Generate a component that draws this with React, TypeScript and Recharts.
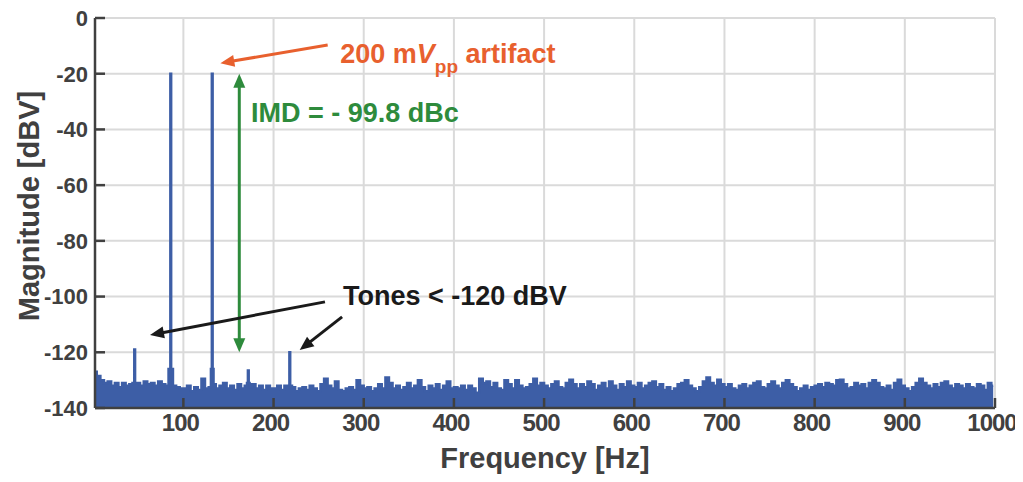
import React from 'react';
import {
  ComposedChart, Area, XAxis, YAxis, CartesianGrid, ReferenceLine, ReferenceDot
} from 'recharts';

const FONT = '"Liberation Sans", Arial, Helvetica, sans-serif';
const AXIS = '#404040';
const BLUE = '#3d5ea6';
const ORANGE = '#e8602e';
const GREEN = '#2e8b3c';
const BLACK = '#1a1a1a';

// FFT bins: 2 Hz start, 4 Hz spacing (noise floor envelope)
const startHz = 2;
const binHz = 4;
const noiseMag = [
  // 2 - 98 Hz
  -127, -128.5, -130, -131, -130.5, -132, -131, -132.5, -131, -132, -131.5, -131, -131, -132, -130.5, -131.5, -131, -132, -130.5, -131.5, -132, -131, -132, -132.5, -133,
  // 102 - 198 Hz
  -133, -132, -134, -132.5, -133.5, -129.5, -133, -132.5, -131.5, -133, -132, -131, -133, -132, -133.5, -131.5, -133, -132, -132.5, -131.5, -133, -132, -133.5, -132, -133,
  // 202 - 298 Hz
  -133, -132, -133.5, -132, -131, -132.5, -134, -133, -132.5, -133.5, -132, -133, -134, -131.5, -129.5, -132, -133, -130.5, -133.5, -134, -133, -132.5, -133.5, -130, -132,
  // 302 - 398 Hz
  -133, -132.5, -134, -133, -131.5, -133, -129, -131, -133, -132, -133.5, -132.5, -131, -133, -132, -130, -132.5, -134, -132, -133, -131.5, -133.5, -132, -130.5, -133,
  // 402 - 498 Hz
  -132.5, -133, -132, -133.5, -132, -133, -134.5, -129.5, -131, -130.5, -132.5, -131, -133, -133.5, -130, -131.5, -133, -130, -132, -133, -132.5, -131.5, -129.5, -132, -131,
  // 502 - 598 Hz
  -132, -133, -131.5, -130.5, -132.5, -133, -131, -129.8, -131.5, -133, -131.5, -132.5, -130.5, -131.5, -133.5, -132, -131, -133, -130.5, -132, -133.5, -131.5, -132.5, -130.5, -132,
  // 602 - 698 Hz
  -132.5, -131, -133, -132, -131, -130.5, -132.5, -131.5, -133.5, -132.5, -134, -133, -131.5, -131, -130, -132, -133, -134, -132.5, -130.5, -129, -131, -132, -129.8, -131.5,
  // 702 - 798 Hz
  -132.5, -131.5, -133, -133.5, -132, -131.5, -133, -132, -131, -130.5, -132.5, -133, -131.5, -130.5, -132, -133, -131, -130, -131.5, -132.5, -134, -133, -132, -133.5, -132.5,
  // 802 - 898 Hz
  -132, -131.5, -132.5, -131, -131.5, -132, -130, -129.8, -131.5, -133, -132.5, -131, -132, -131.5, -133, -131, -130, -131, -132.5, -133, -132, -133.5, -131, -129.8, -132,
  // 902 - 998 Hz
  -133, -134, -132.5, -131, -129.5, -131, -132, -133, -131.5, -132.5, -131, -130.5, -132, -133, -131.5, -132, -133, -131.5, -132.5, -133, -131.5, -132, -133.5, -131, -132,
];

// tones: f2-f1, f1, f2, 2*f1, f1+f2 (with their skirts)
const peakFreq = [45, 46, 47, 85, 86, 87, 131, 132, 133, 171, 172, 173, 217, 218, 219];
const peakMag = [-131, -119, -131, -126, -20, -126, -126, -20, -126, -131, -126.5, -131, -132, -120, -132];

const freqTicks = [100, 200, 300, 400, 500, 600, 700, 800, 900, 1000];
const magTicks = [0, -20, -40, -60, -80, -100, -120, -140];
const innerTicksX = [100, 200, 300, 400, 500, 600, 700, 800, 900];
const innerTicksY = [-20, -40, -60, -80, -100, -120];

const spectrum = (() => {
  const byFreq = new Map<number, number>();
  noiseMag.forEach((m, i) => byFreq.set(startHz + i * binHz, m));
  peakFreq.forEach((f, i) => byFreq.set(f, peakMag[i]));
  return [...byFreq.entries()].sort((a, b) => a[0] - b[0]).map(([f, mag]) => ({ f, mag }));
})();

const arrow = (color: string, both = false) => (p: any) => {
  const { x1, y1, x2, y2 } = p;
  const ang = Math.atan2(y2 - y1, x2 - x1);
  const len = 14;
  const half = 6;
  const c = Math.cos(ang);
  const s = Math.sin(ang);
  const head = (tx: number, ty: number, dir: number) => {
    const bx = tx - dir * len * c;
    const by = ty - dir * len * s;
    return (
      <polygon
        points={`${tx},${ty} ${bx - half * s},${by + half * c} ${bx + half * s},${by - half * c}`}
        fill={color}
      />
    );
  };
  const sx = both ? x1 + len * 0.8 * c : x1;
  const sy = both ? y1 + len * 0.8 * s : y1;
  return (
    <g>
      <line x1={sx} y1={sy} x2={x2 - len * 0.8 * c} y2={y2 - len * 0.8 * s} stroke={color} strokeWidth={3} />
      {head(x2, y2, 1)}
      {both && head(x1, y1, -1)}
    </g>
  );
};

const hiddenTick = () => <g />;

export default function App() {
  return (
    <div style={{ width: 1015, height: 482, marginTop: -8, background: '#fff' }}>
      <ComposedChart
        width={1015}
        height={482}
        data={spectrum}
        margin={{ top: 18, right: 28, left: 27, bottom: 34 }}
      >
        <CartesianGrid stroke="#dadada" strokeWidth={2} />
        <Area
          type="step"
          dataKey="mag"
          baseValue={-140}
          stroke={BLUE}
          strokeWidth={2.4}
          fill={BLUE}
          fillOpacity={1}
          dot={false}
          activeDot={false}
          isAnimationActive={false}
        />
        <XAxis
          dataKey="f"
          type="number"
          domain={[2, 1000]}
          ticks={freqTicks}
          interval={0}
          allowDataOverflow
          height={40}
          tickSize={-10}
          tickMargin={16}
          stroke={AXIS}
          strokeWidth={2.5}
          tick={{ fill: AXIS, fontSize: 24, fontWeight: 700, fontFamily: FONT, letterSpacing: -1, dx: -3 }}
          label={{
            value: 'Frequency [Hz]',
            position: 'bottom',
            offset: -1,
            style: { fill: AXIS, fontSize: 29, fontWeight: 700, fontFamily: FONT },
          }}
        />
        <XAxis
          xAxisId="top"
          orientation="top"
          type="number"
          domain={[2, 1000]}
          ticks={innerTicksX}
          interval={0}
          allowDataOverflow
          height={0}
          tickSize={-9}
          stroke={AXIS}
          strokeWidth={2.5}
          tick={hiddenTick}
        />
        <YAxis
          type="number"
          domain={[-140, 0]}
          ticks={magTicks}
          interval={0}
          allowDataOverflow
          width={60}
          tickSize={-10}
          tickMargin={17}
          stroke={AXIS}
          strokeWidth={2.5}
          tick={{ fill: AXIS, fontSize: 22, fontWeight: 700, fontFamily: FONT }}
          label={{
            content: (props: any) => {
              const { x, y, height } = props.viewBox;
              const bx = x + 4;
              const cy = y + height / 2 - 7;
              return (
                <text
                  x={bx}
                  y={cy}
                  transform={`rotate(-90, ${bx}, ${cy})`}
                  textAnchor="middle"
                  fill={AXIS}
                  fontSize={29}
                  fontWeight={700}
                  fontFamily={FONT}
                >
                  Magnitude [dBV]
                </text>
              );
            },
          }}
        />
        <YAxis
          yAxisId="right"
          orientation="right"
          type="number"
          domain={[-140, 0]}
          ticks={innerTicksY}
          interval={0}
          allowDataOverflow
          width={0}
          tickSize={-9}
          stroke={AXIS}
          strokeWidth={2.5}
          tick={hiddenTick}
        />

        {/* 200 mVpp artifact */}
        <ReferenceLine
          segment={[{ x: 260, y: -9.7 }, { x: 141, y: -16.2 }]}
          ifOverflow="visible"
          shape={arrow(ORANGE)}
        />
        <ReferenceDot
          x={274}
          y={-16.2}
          r={0}
          ifOverflow="visible"
          shape={(p: any) => (
            <text x={p.cx} y={p.cy} fill={ORANGE} fontSize={27} fontWeight={700} fontFamily={FONT}>
              200 m<tspan fontStyle="italic">V</tspan>
              <tspan fontSize={19} dy={10}>pp</tspan>
              <tspan dy={-10}> artifact</tspan>
            </text>
          )}
        />

        {/* IMD */}
        <ReferenceLine
          segment={[{ x: 162, y: -20 }, { x: 162, y: -120 }]}
          ifOverflow="visible"
          shape={arrow(GREEN, true)}
        />
        <ReferenceDot
          x={175}
          y={-37.2}
          r={0}
          ifOverflow="visible"
          shape={(p: any) => (
            <text x={p.cx} y={p.cy} fill={GREEN} fontSize={27} fontWeight={700} fontFamily={FONT}>
              IMD = - 99.8 dBc
            </text>
          )}
        />

        {/* Tones < -120 dBV */}
        <ReferenceLine
          segment={[{ x: 257, y: -101.9 }, { x: 63, y: -113.8 }]}
          ifOverflow="visible"
          shape={arrow(BLACK)}
        />
        <ReferenceLine
          segment={[{ x: 276, y: -107.3 }, { x: 229, y: -119.2 }]}
          ifOverflow="visible"
          shape={arrow(BLACK)}
        />
        <ReferenceDot
          x={277}
          y={-103}
          r={0}
          ifOverflow="visible"
          shape={(p: any) => (
            <text x={p.cx} y={p.cy} fill={BLACK} fontSize={27} fontWeight={700} fontFamily={FONT}>
              Tones &lt; -120 dBV
            </text>
          )}
        />
      </ComposedChart>
    </div>
  );
}
